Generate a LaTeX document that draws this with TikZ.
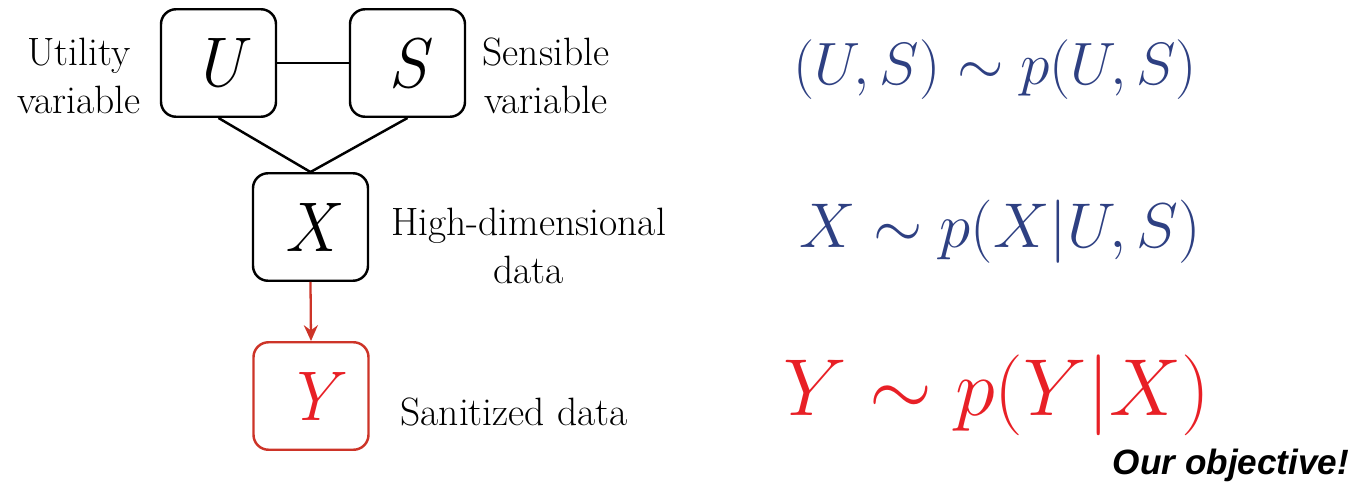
\RequirePackage{fix-cm}
\documentclass[tikz,border=0pt]{standalone}
\usepackage[no-math]{fontspec}
\newfontfamily\objfont{Liberation Sans}
\usetikzlibrary{arrows.meta}
\definecolor{eqblue}{RGB}{46,64,130}
\definecolor{eqred}{RGB}{232,32,38}
\definecolor{boxred}{RGB}{205,52,40}

\begin{document}
\begin{tikzpicture}[
    varbox/.style={draw,rounded corners=0.3cm,line width=1.4pt,minimum width=2.3cm,minimum height=2.15cm,font=\fontsize{40}{40}\selectfont\itshape},
    lbl/.style={align=center,font=\fontsize{22.5}{27}\selectfont},
    eq/.style={text=eqblue,font=\fontsize{34}{40}\selectfont}]
      \useasboundingbox (0,0) rectangle (27.16,-9.72);
      % Variable boxes
      \node[varbox] (U) at (4.37,-1.26) {U};
      \node[varbox] (S) at (8.15,-1.26) {S};
      \node[varbox] (X) at (6.21,-4.54) {X};
      \node[varbox,draw=boxred,text=eqred] (Y) at (6.22,-7.92) {Y};
      % Links
      \draw[line width=1.4pt] (U) -- (S);
      \draw[line width=1.4pt] (U.south) -- (X.north);
      \draw[line width=1.4pt] (S.south) -- (X.north);
      \draw[line width=1.3pt,boxred,-{Stealth[length=9pt,width=8pt]}] (X.south) -- (Y.north);
      % Labels
      \node[lbl] (ulbl) at (1.58,-1.52) {Utility\\variable};
      \node[lbl] (slbl) at (10.92,-1.52) {Sensible\\variable};
      \node[lbl] (xlbl) at (10.57,-4.92) {High-dimensional\\data};
      \node[lbl] (ylbl) at (10.28,-8.24) {Sanitized data};
      % Distributions
      \node[eq] (equs) at (19.9,-1.4) {$(U,S)\sim p(U,S)$};
      \node[eq,font=\fontsize{36}{42}\selectfont] (eqx) at (20.0,-4.64) {$X\sim p(X|U,S)$};
      \node[eq,text=eqred,font=\fontsize{46}{54}\selectfont] (eqy) at (19.94,-7.9) {$Y\sim p(Y|X)$};
      \node[font=\fontsize{20}{24}\selectfont\objfont\bfseries\itshape] (obj) at (24.62,-9.3) {Our objective!};
    \end{tikzpicture}
\end{document}
